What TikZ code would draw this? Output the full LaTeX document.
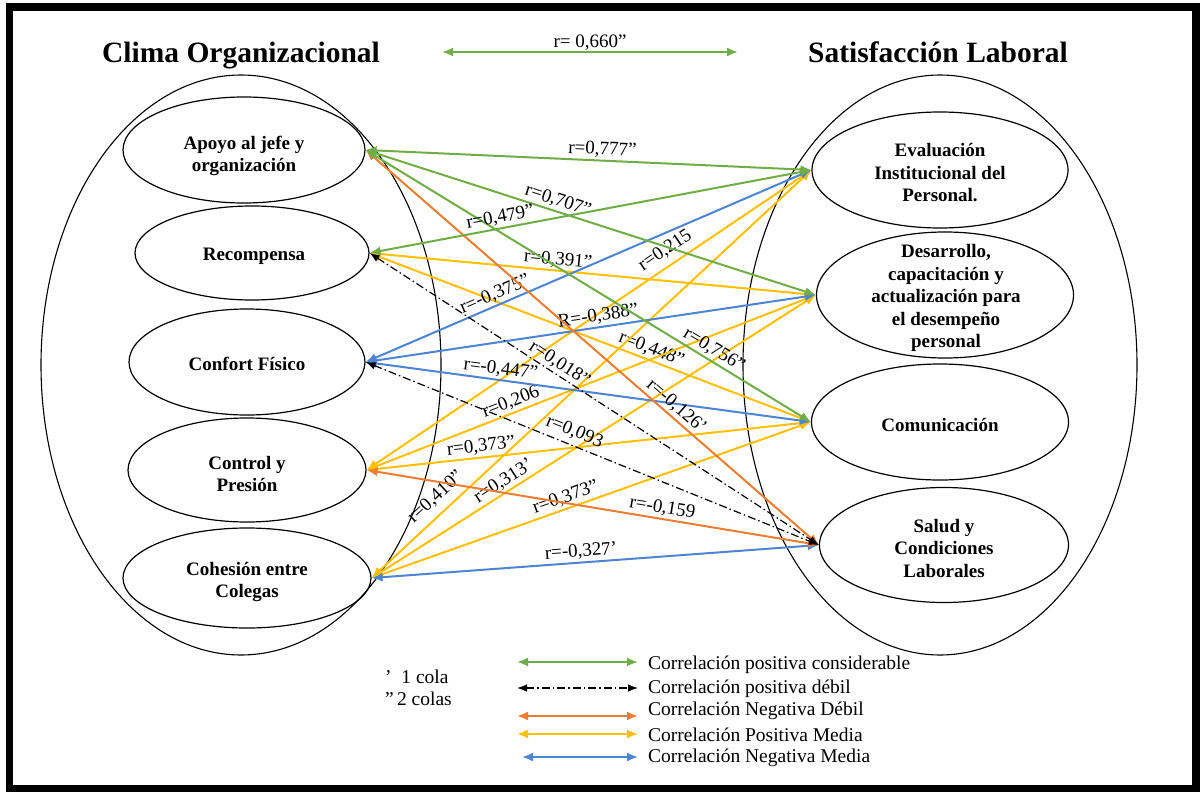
\documentclass[tikz,border=0pt]{standalone}
\usepackage{fontspec}
\setmainfont{Liberation Serif}
\usetikzlibrary{arrows.meta,shapes.geometric}
\definecolor{cgreen}{HTML}{70AD47}
\definecolor{corange}{HTML}{ED7D31}
\definecolor{cyellow}{HTML}{FFC000}
\definecolor{cblue}{HTML}{4F84D2}
\tikzset{
  conn/.style={line width=2pt, arrows={Latex[length=11pt,width=9pt]-Latex[length=11pt,width=9pt]}},
  gconn/.style={conn, color=cgreen},
  oconn/.style={conn, color=corange},
  yconn/.style={conn, color=cyellow},
  bconn/.style={conn, color=cblue},
  kconn/.style={line width=1.2pt, color=black, dash pattern=on 8pt off 3pt on 1.5pt off 3pt,
                arrows={Latex[length=10pt,width=7.5pt]-Latex[length=10pt,width=7.5pt]}},
  lbl/.style={font=\fontsize{19}{21}\selectfont, text=black, sloped, above, inner sep=2pt},
  bigell/.style={draw, ellipse, line width=1.1pt, inner sep=0pt},
  subell/.style={draw, ellipse, line width=1.2pt, inner sep=0pt},
  subtxt/.style={font=\bfseries\fontsize{19}{22.5}\selectfont, align=center, inner sep=0pt},
  ttl/.style={font=\bfseries\fontsize{29.5}{32}\selectfont, inner sep=0pt, anchor=base},
  legtxt/.style={font=\fontsize{19.5}{22}\selectfont, anchor=west, inner sep=0pt},
}
\begin{document}
\begin{tikzpicture}[x=1pt,y=-1pt]
\useasboundingbox (0,0) rectangle (1200,792);
\fill[white] (0,0) rectangle (1200,792);
\draw[line width=7.5pt] (9.5,7) rectangle (1196,789);

% titles
\node[ttl] (tL) at (241,63) {Clima Organizacional};
\node[ttl] (tR) at (938,63) {Satisfacción Laboral};

% global correlation
\coordinate (topL) at (442,52);
\coordinate (topR) at (738,52);
\draw[gconn] (topL) -- node[lbl, inner sep=1pt] {r= 0,660”} (topR);

% big ellipses
\node[bigell, minimum width=400pt, minimum height=580pt] (bigL) at (241,365) {};
\node[bigell, minimum width=394pt, minimum height=580pt] (bigR) at (940,365) {};

% left sub-ellipses
\node[subell, minimum width=242pt, minimum height=106pt] (ap) at (244,150) {};
\node[subtxt] (apT) at (244,156) {Apoyo al jefe y\\organización};
\node[subell, minimum width=234pt, minimum height=94pt] (re) at (252,253) {};
\node[subtxt] (reT) at (254,256) {Recompensa};
\node[subell, minimum width=236pt, minimum height=106pt] (cf) at (247,362) {};
\node[subtxt] (cfT) at (247,364) {Confort Físico};
\node[subell, minimum width=238pt, minimum height=104pt] (cp) at (247,470) {};
\node[subtxt] (cpT) at (247,474) {Control y\\Presión};
\node[subell, minimum width=248pt, minimum height=100pt] (ce) at (247,578) {};
\node[subtxt] (ceT) at (247,582) {Cohesión entre\\Colegas};

% right sub-ellipses
\node[subell, minimum width=256pt, minimum height=116pt] (ev) at (940,170) {};
\node[subtxt] (evT) at (940,173) {Evaluación\\Institucional del\\Personal.};
\node[subell, minimum width=257pt, minimum height=126pt] (de) at (945,295) {};
\node[subtxt] (deT) at (946,298) {Desarrollo,\\capacitación y\\actualización para\\el desempeño\\personal};
\node[subell, minimum width=257pt, minimum height=116pt] (co) at (940,422) {};
\node[subtxt] (coT) at (940,425) {Comunicación};
\node[subell, minimum width=249pt, minimum height=115pt] (sa) at (944,545) {};
\node[subtxt] (saT) at (944,548) {Salud y\\Condiciones\\Laborales};

% yellow: positiva media
\draw[yconn] (re.east) -- node[lbl, pos=0.42] {r=0,391”} (de.west);
\draw[yconn] (re.east) -- node[lbl, pos=0.63] {r=0,448”} (co.west);
\draw[yconn] (cp.east) -- node[lbl, pos=0.69, above=4pt] {r=0,215} (ev.west);
\draw[yconn] (cp.east) -- node[lbl, pos=0.33] {r=0,206} (de.west);
\draw[yconn] (cp.east) -- node[lbl, pos=0.26] {r=0,373”} (co.west);
\draw[yconn] (ce.east) -- node[lbl, pos=0.17, above=5pt] {r=0,410”} (ev.west);
\draw[yconn] (ce.east) -- node[lbl, pos=0.31] {r=0,313’} (de.west);
\draw[yconn] (ce.east) -- node[lbl, pos=0.45] {r=0,373”} (co.west);

% blue: negativa media
\draw[bconn] (cf.east) -- node[lbl, pos=0.30] {r=-0,375”} (ev.west);
\draw[bconn] (cf.east) -- node[lbl, pos=0.52] {R=-0,388”} (de.west);
\draw[bconn] (cf.east) -- node[lbl, pos=0.30] {r=-0,447”} (co.west);
\draw[bconn] (ce.east) -- node[lbl, pos=0.47] {r=-0,327’} (sa.west);

% orange: negativa debil
\draw[oconn] (ap.east) -- node[lbl, pos=0.67, above=0pt] {r=-0,126’} (sa.west);
\draw[oconn] (cp.east) -- node[lbl, pos=0.65] {r=-0,159} (sa.west);

% green: positiva considerable
\draw[gconn] (ap.east) -- node[lbl, pos=0.53] {r=0,777”} (ev.west);
\draw[gconn] (ap.east) -- node[lbl, pos=0.42] {r=0,707”} (de.west);
\draw[gconn] (ap.east) -- node[lbl, pos=0.77] {r=0,756”} (co.west);
\draw[gconn] (re.east) -- node[lbl, pos=0.30] {r=0,479”} (ev.west);

% black dash-dot: positiva debil
\draw[kconn] (re.east) -- node[lbl, pos=0.41] {r=0,018”} (sa.west);
\draw[kconn] (cf.east) -- node[lbl, pos=0.45, above=3pt] {r=0,093} (sa.west);

% notes
\node[legtxt] (n1) at (385,677) {’\ \ 1 cola};
\node[legtxt] (n2) at (385,699) {”\,2 colas};

% legend
\coordinate (l1a) at (517,662); \coordinate (l1b) at (638,662);
\coordinate (l2a) at (517,688); \coordinate (l2b) at (638,688);
\coordinate (l3a) at (517,716); \coordinate (l3b) at (638,716);
\coordinate (l4a) at (517,734); \coordinate (l4b) at (638,734);
\coordinate (l5a) at (522,757); \coordinate (l5b) at (638,757);
\draw[gconn] (l1a) -- (l1b);
\draw[kconn] (l2a) -- (l2b);
\draw[oconn] (l3a) -- (l3b);
\draw[yconn] (l4a) -- (l4b);
\draw[bconn] (l5a) -- (l5b);
\node[legtxt] (t1) at (648,665) {Correlación positiva considerable};
\node[legtxt] (t2) at (648,689) {Correlación positiva débil};
\node[legtxt] (t3) at (648,711) {Correlación Negativa Débil};
\node[legtxt] (t4) at (648,735) {Correlación Positiva Media};
\node[legtxt] (t5) at (648,758) {Correlación Negativa Media};
\end{tikzpicture}
\end{document}
